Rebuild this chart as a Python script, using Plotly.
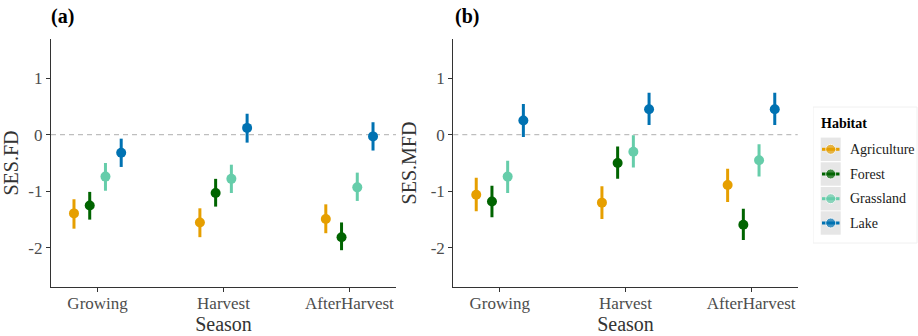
import plotly.graph_objects as go

seasons = ["Growing", "Harvest", "AfterHarvest"]
habitats = ["Agriculture", "Forest", "Grassland", "Lake"]
colors = ["#E69F00", "#006400", "#66CDAA", "#0072B2"]
y_ticks = [-2, -1, 0, 1]
y_ticklabels = ["-2", "-1", "0", "1"]

# Panel (a) SES.FD: mean, lower, upper per habitat (order of seasons)
fd_mean = {
    "Agriculture": [-1.39, -1.55, -1.49],
    "Forest": [-1.25, -1.03, -1.81],
    "Grassland": [-0.74, -0.78, -0.93],
    "Lake": [-0.32, 0.12, -0.03],
}
fd_low = {
    "Agriculture": [-1.66, -1.81, -1.74],
    "Forest": [-1.50, -1.27, -2.04],
    "Grassland": [-0.99, -1.03, -1.17],
    "Lake": [-0.57, -0.14, -0.28],
}
fd_high = {
    "Agriculture": [-1.14, -1.30, -1.23],
    "Forest": [-1.01, -0.78, -1.55],
    "Grassland": [-0.50, -0.53, -0.67],
    "Lake": [-0.07, 0.37, 0.22],
}
# Panel (b) SES.MFD
mfd_mean = {
    "Agriculture": [-1.06, -1.20, -0.89],
    "Forest": [-1.18, -0.50, -1.59],
    "Grassland": [-0.74, -0.30, -0.45],
    "Lake": [0.25, 0.45, 0.45],
}
mfd_low = {
    "Agriculture": [-1.35, -1.49, -1.19],
    "Forest": [-1.46, -0.78, -1.86],
    "Grassland": [-1.03, -0.58, -0.74],
    "Lake": [-0.04, 0.17, 0.17],
}
mfd_high = {
    "Agriculture": [-0.76, -0.91, -0.60],
    "Forest": [-0.90, -0.21, -1.31],
    "Grassland": [-0.46, -0.01, -0.17],
    "Lake": [0.54, 0.74, 0.74],
}
dodge = [-0.1875, -0.0625, 0.0625, 0.1875]

FONT = "Liberation Serif"
W, H = 918, 336

fig = go.Figure()

panels = [("x", "y", fd_mean, fd_low, fd_high), ("x2", "y2", mfd_mean, mfd_low, mfd_high)]
for xa, ya, mean, low, high in panels:
    for i, h in enumerate(habitats):
        xs = [k + dodge[i] for k in range(len(seasons))]
        m = mean[h]
        fig.add_trace(go.Scatter(
            x=xs, y=m, xaxis=xa, yaxis=ya, mode="markers",
            marker=dict(color=colors[i], size=10),
            error_y=dict(type="data", symmetric=False,
                         array=[hi - v for hi, v in zip(high[h], m)],
                         arrayminus=[v - lo for lo, v in zip(low[h], m)],
                         color=colors[i], thickness=3, width=0),
            showlegend=False, hoverinfo="skip"))

# legend drawn in a pixel-mapped helper axis
key_y = [149.3, 174.0, 198.7, 223.0]
for i, h in enumerate(habitats):
    fig.add_shape(type="rect", xref="x3", yref="y3", x0=820.7, x1=840.7,
                  y0=key_y[i] - 11.7, y1=key_y[i] + 11.7,
                  fillcolor="#E6E6E6", line=dict(width=0), layer="below")
    fig.add_trace(go.Scatter(
        x=[822, 830.7, 839.5], y=[key_y[i]] * 3, xaxis="x3", yaxis="y3",
        mode="lines+markers", line=dict(color=colors[i], width=3),
        marker=dict(color=colors[i], size=[0, 10, 0]),
        showlegend=False, hoverinfo="skip"))
    fig.add_annotation(x=848, y=key_y[i], xref="x3", yref="y3", text=h,
                       showarrow=False, xanchor="left", yanchor="middle",
                       font=dict(family=FONT, size=14, color="#1A1A1A"))
fig.add_annotation(x=819, y=123, xref="x3", yref="y3", text="<b>Habitat</b>",
                   showarrow=False, xanchor="left", yanchor="middle",
                   font=dict(family=FONT, size=14, color="#000000"))
fig.add_shape(type="rect", xref="x3", yref="y3", x0=813, x1=917, y0=107, y1=243,
              line=dict(color="#F0F0F0", width=1), fillcolor="rgba(0,0,0,0)")

# dashed zero lines
for xa, ya in [("x", "y"), ("x2", "y2")]:
    fig.add_shape(type="line", xref=xa + " domain", yref=ya, x0=0, x1=1, y0=0, y1=0,
                  line=dict(color="#BEBEBE", width=1.2, dash="5px,4px"), layer="below")

xdom_a = [51 / W, 396 / W]
xdom_b = [453.3 / W, 797.7 / W]
ydom = [(H - 287) / H, (H - 39) / H]

common_x = dict(tickmode="array", tickvals=[0, 1, 2], ticktext=seasons,
                range=[-0.37, 2.37], showline=True, linecolor="#333333", linewidth=1.2,
                ticks="outside", ticklen=4, tickcolor="#333333", showgrid=False,
                zeroline=False, automargin=False, ticklabelstandoff=-4,
                tickfont=dict(family=FONT, size=17, color="#4D4D4D"),
                title=dict(text="Season", font=dict(family=FONT, size=20, color="#333333"),
                           standoff=2))
common_y = dict(tickmode="array", tickvals=y_ticks, ticktext=y_ticklabels, range=[-2.69, 1.69],
                showline=True, linecolor="#333333", linewidth=1.2, ticks="outside",
                ticklen=4, tickcolor="#333333", showgrid=False, zeroline=False,
                automargin=False,
                tickfont=dict(family=FONT, size=17, color="#4D4D4D"), domain=ydom)

fig.update_layout(
    width=W, height=H, margin=dict(l=0, r=0, t=0, b=0, autoexpand=False),
    paper_bgcolor="white", plot_bgcolor="white",
    xaxis=dict(domain=xdom_a, anchor="y", **common_x),
    xaxis2=dict(domain=xdom_b, anchor="y2", **common_x),
    yaxis=dict(anchor="x", title=dict(text="SES.FD", font=dict(family=FONT, size=20, color="#333333"), standoff=8), **common_y),
    yaxis2=dict(anchor="x2", title=dict(text="SES.MFD", font=dict(family=FONT, size=20, color="#333333"), standoff=8), **common_y),
    xaxis3=dict(domain=[813 / W, 1.0], range=[813, 918], visible=False, anchor="y3", automargin=False),
    yaxis3=dict(domain=[0, 1], range=[336, 0], visible=False, anchor="x3", automargin=False),
    showlegend=False,
)
fig.add_annotation(x=49 / W, y=1 - 16 / H, xref="paper", yref="paper", text="<b>(a)</b>",
                   showarrow=False, xanchor="left", yanchor="middle",
                   font=dict(family=FONT, size=20, color="#000000"))
fig.add_annotation(x=453 / W, y=1 - 16 / H, xref="paper", yref="paper", text="<b>(b)</b>",
                   showarrow=False, xanchor="left", yanchor="middle",
                   font=dict(family=FONT, size=20, color="#000000"))

fig.write_html("out.html", config={"displayModeBar": False},
               post_script="document.body.style.margin='0';document.body.style.overflow='hidden';")
